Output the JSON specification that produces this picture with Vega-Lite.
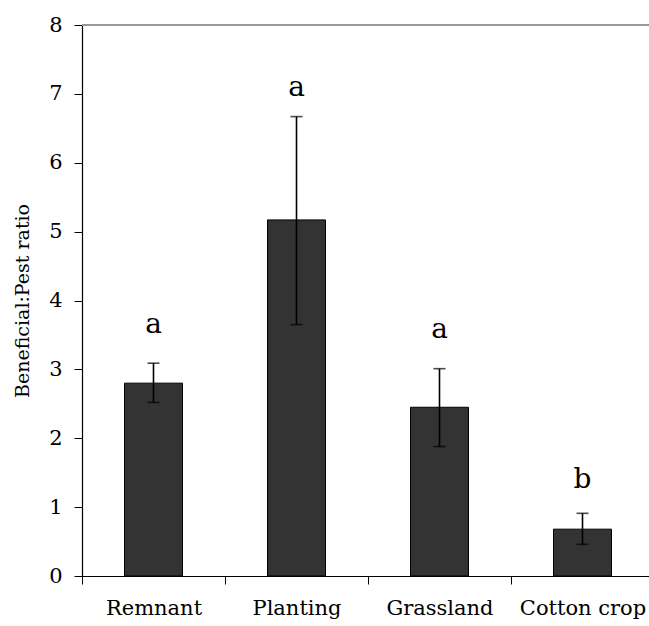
{
  "$schema": "https://vega.github.io/schema/vega-lite/v6.json",
  "autosize": {"type": "none"},
  "padding": {"left": 82, "top": 25, "right": 0, "bottom": 50},
  "width": 572,
  "height": 551,
  "background": "white",
  "config": {
    "view": {"stroke": null},
    "font": "DejaVu Serif"
  },
  "data": {
    "values": [
      {"site": "Remnant", "ratio": 2.8, "lo": 2.52, "hi": 3.09, "letter": "a", "letter_y": 3.53},
      {"site": "Planting", "ratio": 5.17, "lo": 3.65, "hi": 6.67, "letter": "a", "letter_y": 6.97},
      {"site": "Grassland", "ratio": 2.45, "lo": 1.88, "hi": 3.01, "letter": "a", "letter_y": 3.45},
      {"site": "Cotton crop", "ratio": 0.68, "lo": 0.46, "hi": 0.91, "letter": "b", "letter_y": 1.28}
    ]
  },
  "layer": [
    {
      "mark": {"type": "rule", "color": "#999999", "strokeWidth": 1.5},
      "encoding": {"y": {"datum": 8}}
    },
    {
      "mark": {"type": "bar", "size": 58, "color": "#333333", "stroke": "black", "strokeWidth": 1},
      "encoding": {
        "x": {
          "field": "site",
          "type": "nominal",
          "sort": null,
          "scale": {"paddingInner": 0, "paddingOuter": 0},
          "axis": {
            "title": null,
            "labelAngle": 0,
            "labelFont": "DejaVu Serif",
            "labelFontSize": 21,
            "labelColor": "black",
            "labelPadding": 13,
            "domainColor": "black",
            "domainWidth": 1.2,
            "tickColor": "black",
            "tickWidth": 1,
            "tickSize": 8,
            "tickBand": "extent"
          }
        },
        "y": {
          "field": "ratio",
          "type": "quantitative",
          "scale": {"domain": [0, 8], "nice": false},
          "axis": {
            "title": "Beneficial:Pest ratio",
            "titleFont": "DejaVu Serif",
            "titleFontSize": 19,
            "titleFontWeight": "normal",
            "titleColor": "black",
            "titlePadding": 16,
            "values": [0, 1, 2, 3, 4, 5, 6, 7, 8],
            "format": "d",
            "labelFont": "DejaVu Serif",
            "labelFontSize": 21,
            "labelColor": "black",
            "labelPadding": 12,
            "grid": false,
            "domainColor": "black",
            "domainWidth": 1.2,
            "tickColor": "black",
            "tickSize": 8
          }
        }
      }
    },
    {
      "mark": {"type": "rule", "color": "black", "strokeWidth": 1.6},
      "encoding": {
        "x": {"field": "site", "type": "nominal", "sort": null},
        "y": {"field": "lo", "type": "quantitative"},
        "y2": {"field": "hi"}
      }
    },
    {
      "mark": {"type": "tick", "color": "black", "size": 12, "thickness": 1.6},
      "encoding": {
        "x": {"field": "site", "type": "nominal", "sort": null},
        "y": {"field": "lo", "type": "quantitative"}
      }
    },
    {
      "mark": {"type": "tick", "color": "black", "size": 12, "thickness": 1.6},
      "encoding": {
        "x": {"field": "site", "type": "nominal", "sort": null},
        "y": {"field": "hi", "type": "quantitative"}
      }
    },
    {
      "mark": {"type": "text", "font": "DejaVu Serif", "fontSize": 28, "color": "black", "baseline": "alphabetic"},
      "encoding": {
        "x": {"field": "site", "type": "nominal", "sort": null},
        "y": {"field": "letter_y", "type": "quantitative"},
        "text": {"field": "letter"}
      }
    }
  ]
}
